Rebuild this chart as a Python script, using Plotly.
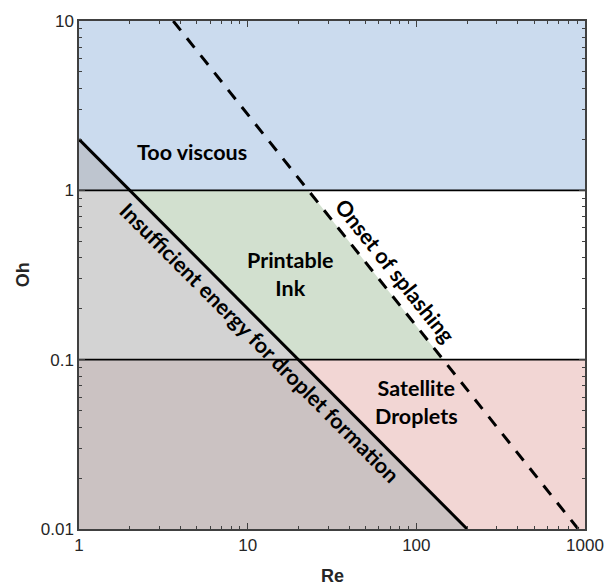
import numpy as np
import plotly.graph_objects as go

# Axis extents (log-log)
re_range = [1, 1000]
oh_range = [0.01, 10]

# Regime boundaries
viscous_oh = 1.0        # above: too viscous
satellite_oh = 0.1      # below: satellite droplets
energy_re = [1, 200]    # insufficient-energy boundary, Oh = 2/Re
energy_oh = [2, 0.01]
splash_re = [3.62, 911] # onset of splashing, Oh*Re^1.25 = 50
splash_oh = [10, 0.01]

major_ticks_re = [1, 10, 100, 1000]
major_ticks_oh = [0.01, 0.1, 1, 10]
tick_text_re = ["1", "10", "100", "1000"]
tick_text_oh = ["0.01", "0.1", "1", "10"]


def re_on_line(line_re, line_oh, oh):
    """Re at which a straight log-log boundary reaches a given Oh."""
    lr, lo = np.log10(line_re), np.log10(line_oh)
    t = (np.log10(oh) - lo[0]) / (lo[1] - lo[0])
    return 10 ** (lr[0] + t * (lr[1] - lr[0]))


re_e_1 = re_on_line(energy_re, energy_oh, viscous_oh)
re_e_01 = re_on_line(energy_re, energy_oh, satellite_oh)
re_s_1 = re_on_line(splash_re, splash_oh, viscous_oh)
re_s_01 = re_on_line(splash_re, splash_oh, satellite_oh)
r0, r1 = re_range
o0, o1 = oh_range

regions = [
    # (Re vertices, Oh vertices, colour)
    ([r0, r0, r1, r1, re_e_1], [energy_oh[0], o1, o1, viscous_oh, viscous_oh], "#cbdbee"),
    ([r0, r0, re_e_1], [viscous_oh, energy_oh[0], viscous_oh], "#bec5cf"),
    ([r0, r0, re_e_1, re_e_01], [satellite_oh, viscous_oh, viscous_oh, satellite_oh], "#d3d3d3"),
    ([re_e_1, re_s_1, re_s_01, re_e_01], [viscous_oh, viscous_oh, satellite_oh, satellite_oh], "#d2e0cf"),
    ([r0, r0, re_e_01, energy_re[1]], [o0, satellite_oh, satellite_oh, o0], "#cbc2c2"),
    ([re_e_01, r1, r1, energy_re[1]], [satellite_oh, satellite_oh, o0, o0], "#f2d6d4"),
]

fig = go.Figure()

for xs, ys, col in regions:
    fig.add_trace(go.Scatter(
        x=xs + [xs[0]], y=ys + [ys[0]], mode="lines", fill="toself",
        fillcolor=col, line=dict(width=0), hoverinfo="skip", showlegend=False,
    ))

for level in (viscous_oh, satellite_oh):
    fig.add_trace(go.Scatter(
        x=re_range, y=[level, level], mode="lines",
        line=dict(color="black", width=1.6), showlegend=False,
    ))

fig.add_trace(go.Scatter(
    x=energy_re, y=energy_oh, mode="lines",
    line=dict(color="black", width=3), showlegend=False,
))
fig.add_trace(go.Scatter(
    x=splash_re, y=splash_oh, mode="lines",
    line=dict(color="black", width=3, dash="12px,10px"), showlegend=False,
))

label_font = dict(family="Lato, Noto Sans, sans-serif", size=21.5, color="black")


def lab(text, re, oh, angle=0):
    fig.add_annotation(
        x=np.log10(re), y=np.log10(oh), text=text, showarrow=False,
        textangle=angle, font=label_font, xanchor="center", yanchor="middle",
    )


lab("<b>Too viscous</b>", 4.7, 1.69)
lab("<b>Printable<br>Ink</b>", 18, 0.32)
lab("<b>Satellite<br>Droplets</b>", 100, 0.056)
lab("<b>Insufficient energy for droplet formation</b>", 11.8, 0.125, 45)
lab("<b>Onset of splashing</b>", 75, 0.335, 51.3)

axis_common = dict(
    type="log", ticks="inside", ticklen=6, tickwidth=1.2, tickcolor="#404040",
    showline=True, linecolor="#404040", linewidth=1.5, mirror="ticks",
    showgrid=False, zeroline=False,
    tickfont=dict(family="Liberation Sans, Arial, sans-serif", size=17, color="#262626"),
)

minor_re = [m * d for d in (1, 10, 100) for m in range(2, 10)]
minor_oh = [m * d for d in (0.01, 0.1, 1) for m in range(2, 10)]

fig.update_xaxes(
    **axis_common, range=[np.log10(r0), np.log10(r1)],
    tickmode="array", tickvals=major_ticks_re, ticktext=tick_text_re,
    minor=dict(tickmode="array", tickvals=minor_re, ticks="inside", ticklen=3,
               tickcolor="#404040", tickwidth=1),
)
fig.update_yaxes(
    **axis_common, range=[np.log10(o0), np.log10(o1)],
    tickmode="array", tickvals=major_ticks_oh, ticktext=tick_text_oh,
    minor=dict(tickmode="array", tickvals=minor_oh, ticks="inside", ticklen=3,
               tickcolor="#404040", tickwidth=1),
)

title_font = dict(family="Liberation Sans, Arial, sans-serif", size=18, color="#262626")
fig.add_annotation(text="<b>Re</b>", xref="paper", yref="paper", x=0.5, y=-0.093,
                   showarrow=False, font=title_font, xanchor="center", yanchor="middle")
fig.add_annotation(text="<b>Oh</b>", xref="paper", yref="paper", x=-0.110, y=0.5,
                   showarrow=False, font=title_font, textangle=-90,
                   xanchor="center", yanchor="middle")

fig.update_layout(
    width=616, height=587,
    margin=dict(l=79, r=20, t=14, b=58),
    plot_bgcolor="white", paper_bgcolor="white",
    showlegend=False,
)

fig.write_html("out.html")
